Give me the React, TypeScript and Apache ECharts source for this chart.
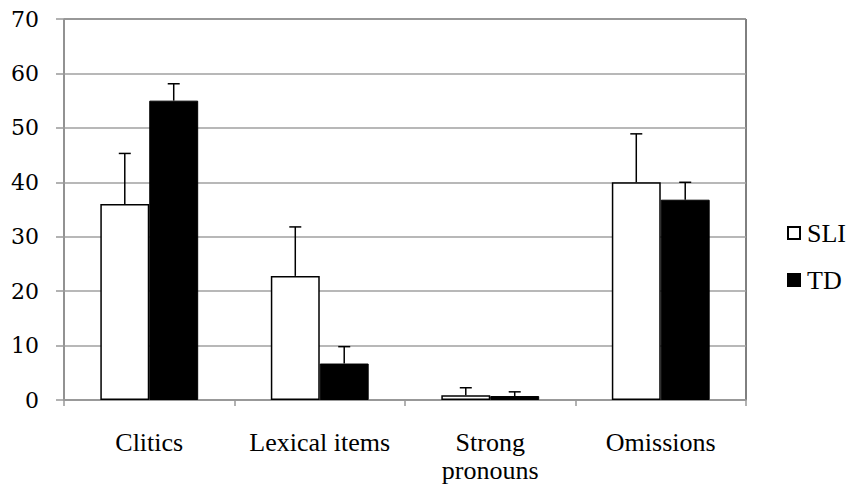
import React, { useEffect, useRef } from "react";
import * as echarts from "echarts";

const categories = ["Clitics", "Lexical items", "Strong\npronouns", "Omissions"];
const sliValues = [36, 22.8, 0.86, 40];
const sliErrTop = [45.3, 31.8, 2.25, 48.9];
const tdValues = [55, 6.7, 0.73, 36.8];
const tdErrTop = [58.1, 9.8, 1.5, 40];
const seriesNames = ["SLI", "TD"];
const yTicks = { min: 0, max: 70, interval: 10 };

const BAR_FRAC = 0.287;
const TIMES = "Liberation Serif";
const CAMBRIA = "DejaVu Serif";

export default function App() {
  const ref = useRef<HTMLDivElement>(null);
  useEffect(() => {
    if (!ref.current) return;
    const chart = echarts.init(ref.current, null, { renderer: "svg" });
    const errData = (vals: number[], tops: number[]) =>
      vals.map((v, i) => [i, tops[i], v]);
    const makeErr = (sign: number) => (params: any, api: any) => {
      const idx = api.value(0);
      const hi = api.value(1);
      const base = api.value(2);
      const p0 = api.coord([idx, base]);
      const p1 = api.coord([idx, hi]);
      const bw = api.size([1, 0])[0];
      const x = p0[0] + (sign * bw * BAR_FRAC) / 2;
      const cap = 6;
      const style = { stroke: "#000", lineWidth: 1.5 };
      return {
        type: "group",
        children: [
          { type: "line", shape: { x1: x, y1: p0[1], x2: x, y2: p1[1] }, style },
          { type: "line", shape: { x1: x - cap, y1: p1[1], x2: x + cap, y2: p1[1] }, style },
        ],
      };
    };
    chart.setOption({
      animation: false,
      backgroundColor: "#fff",
      textStyle: { fontFamily: TIMES },
      grid: {
        left: 64,
        right: 103,
        top: 19,
        bottom: 89,
        show: true,
        borderColor: "#000",
        borderWidth: 1,
        backgroundColor: "transparent",
      },
      legend: {
        orient: "vertical",
        left: 787,
        top: 220,
        padding: 0,
        itemWidth: 12,
        itemHeight: 12,
        itemGap: 21,
        icon: "rect",
        data: seriesNames,
        textStyle: {
          fontFamily: TIMES,
          fontSize: 26,
          color: "#000",
          lineHeight: 25,
          padding: [0, 0, 0, 2],
        },
      },
      xAxis: {
        type: "category",
        data: categories,
        axisLine: { lineStyle: { color: "#999", width: 1.5 } },
        axisTick: { show: true, length: 6, lineStyle: { color: "#999", width: 1.5 } },
        axisLabel: {
          fontFamily: TIMES,
          fontSize: 26,
          color: "#000",
          margin: 28,
          lineHeight: 28,
          interval: 0,
        },
      },
      yAxis: {
        type: "value",
        min: yTicks.min,
        max: yTicks.max,
        interval: yTicks.interval,
        axisLine: { show: true, lineStyle: { color: "#999", width: 1.5 } },
        axisTick: { show: true, length: 8, lineStyle: { color: "#999", width: 1.5 } },
        splitLine: { lineStyle: { color: "#a0a0a0", width: 1.5 } },
        axisLabel: {
          fontFamily: CAMBRIA,
          fontSize: 22,
          color: "#000",
          margin: 25,
          padding: [7, 0, 0, 0],
        },
      },
      series: [
        {
          name: "SLI",
          type: "bar",
          data: sliValues,
          barWidth: "28.7%",
          barGap: "0%",
          itemStyle: { color: "#fff", borderColor: "#000", borderWidth: 1.5 },
          z: 3,
        },
        {
          name: "TD",
          type: "bar",
          data: tdValues,
          barWidth: "28.7%",
          barGap: "0%",
          itemStyle: { color: "#000", borderColor: "#000", borderWidth: 1 },
          z: 3,
        },
        {
          type: "custom",
          renderItem: makeErr(-1),
          data: errData(sliValues, sliErrTop),
          encode: { x: 0, y: 1 },
          z: 4,
          silent: true,
        },
        {
          type: "custom",
          renderItem: makeErr(1),
          data: errData(tdValues, tdErrTop),
          encode: { x: 0, y: 1 },
          z: 4,
          silent: true,
        },
      ],
    });
    return () => chart.dispose();
  }, []);
  return (
    <div
      ref={ref}
      style={{ position: "absolute", left: 0, top: 0, width: 849, height: 489 }}
    />
  );
}
